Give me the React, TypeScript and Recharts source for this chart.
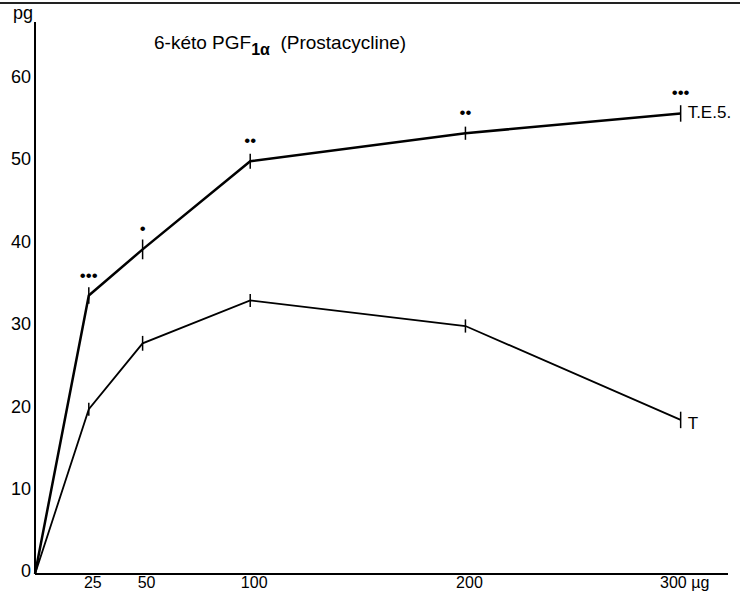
import { LineChart, Line, XAxis, YAxis, ErrorBar, LabelList } from "recharts";

const doses = [0, 25, 50, 100, 200, 300];
const tesValues = [0, 33.8, 39.4, 50.1, 53.5, 55.9];
const tesErrors = [0, 1, 1.2, 0.9, 0.8, 1];
const tValues = [0, 20, 28, 33.2, 30.1, 18.7];
const tErrors = [0, 0.8, 0.9, 0.8, 0.8, 1];
const significance = ["", "•••", "•", "••", "••", "•••"];
const xTicks = [25, 50, 100, 200, 300];
const yTicks = [0, 10, 20, 30, 40, 50, 60];

const chartData = doses.map((dose, i) => ({
  dose,
  tes: tesValues[i],
  tesErr: tesErrors[i],
  t: tValues[i],
  tErr: tErrors[i],
  sig: significance[i],
}));

const font = "'Liberation Sans', Arial, sans-serif";

function endLabel(text: string, dy: number) {
  return (props: any) => {
    const { x, y, index } = props;
    if (index !== doses.length - 1) return null;
    return (
      <text x={x + 7} y={y + dy} fontSize={17} fontFamily={font} fill="#000" dominantBaseline="middle">
        {text}
      </text>
    );
  };
}

function sigLabel(props: any) {
  const { x, y, value } = props;
  if (!value) return null;
  return (
    <text x={x} y={y - 15} fontSize={17} fontFamily={font} fill="#000" textAnchor="middle">
      {value}
    </text>
  );
}

export default function App() {
  return (
    <div style={{ position: "absolute", left: 0, top: 0, width: 740, height: 595, background: "#fff", fontFamily: font }}>
      <div style={{ position: "absolute", left: 0, top: 2, width: 740, borderTop: "2px solid #222" }} />
      <div style={{ position: "absolute", left: 13, top: 3, fontSize: 18, color: "#000" }}>pg</div>
      <div style={{ position: "absolute", left: 154, top: 32, fontSize: 19, color: "#000", whiteSpace: "pre" }}>
        6-kéto PGF<sub style={{ fontSize: 16, fontWeight: "bold", verticalAlign: -6 }}>1α</sub>{"  (Prostacycline)"}
      </div>
      <LineChart width={740} height={595} data={chartData} margin={{ top: 22, right: 12, left: 0, bottom: 0 }}>
        <XAxis
          dataKey="dose"
          type="number"
          domain={[0, 322]}
          ticks={xTicks}
          tickFormatter={(v: number) => (v === 300 ? "300 µg" : String(v))}
          axisLine={{ stroke: "#000", strokeWidth: 2 }}
          tickLine={false}
          tickSize={0}
          tickMargin={3}
          height={21}
          tick={{ fill: "#000", fontSize: 16, fontFamily: font, dx: 4 }}
          interval={0}
        />
        <YAxis
          type="number"
          domain={[0, 67]}
          ticks={yTicks}
          axisLine={{ stroke: "#000", strokeWidth: 2 }}
          tickLine={false}
          tickSize={0}
          tickMargin={4}
          width={35}
          tick={{ fill: "#000", fontSize: 18, fontFamily: font, dy: -3 }}
          interval={0}
        />
        <Line type="linear" dataKey="tes" stroke="#000" strokeWidth={2.5} dot={false} isAnimationActive={false}>
          <ErrorBar dataKey="tesErr" width={0} stroke="#000" strokeWidth={1.5} direction="y" isAnimationActive={false} />
          <LabelList dataKey="sig" content={sigLabel} />
          <LabelList dataKey="tes" content={endLabel("T.E.5.", 0)} />
        </Line>
        <Line type="linear" dataKey="t" stroke="#000" strokeWidth={1.8} dot={false} isAnimationActive={false}>
          <ErrorBar dataKey="tErr" width={0} stroke="#000" strokeWidth={1.5} direction="y" isAnimationActive={false} />
          <LabelList dataKey="t" content={endLabel("T", 5)} />
        </Line>
      </LineChart>
    </div>
  );
}
